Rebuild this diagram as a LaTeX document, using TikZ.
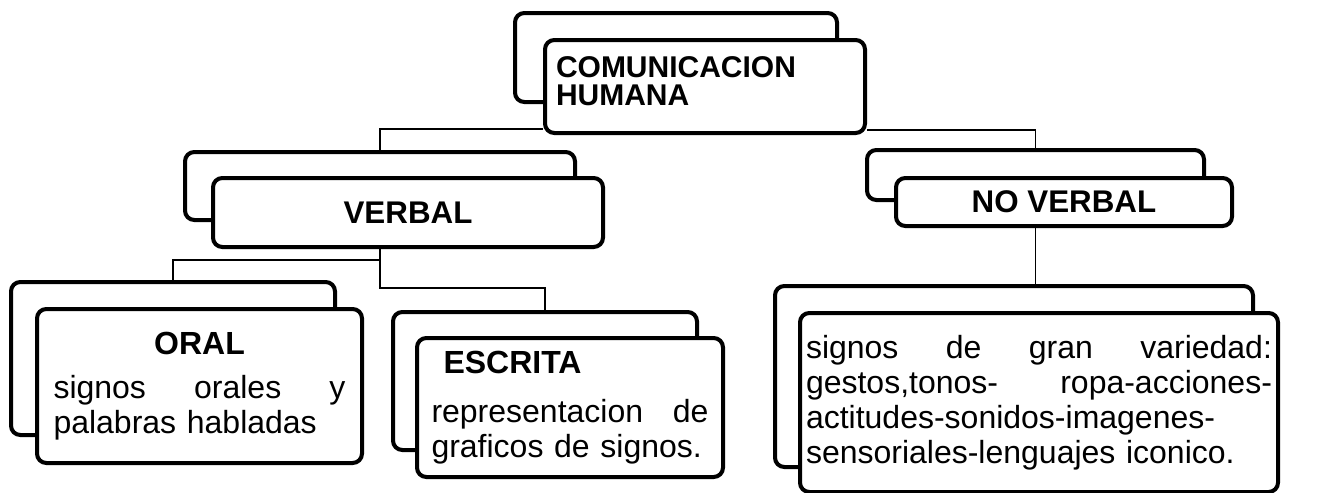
\documentclass[tikz,border=0pt]{standalone}
\usepackage{fontspec}
\setmainfont{Liberation Sans}

\begin{document}
\begin{tikzpicture}[x=0.75pt,y=-0.75pt,
    back/.style={draw=black,line width=3pt,rounded corners=7pt,fill=white,inner sep=0pt},
    front/.style={back,font=\fontsize{24}{26.25}\selectfont},
    title/.style={front,font=\fontsize{23.5}{26.25}\selectfont\bfseries},
    link/.style={draw=black,line width=1pt}]
    \useasboundingbox (0,0) rectangle (1329,493);
    \node[back,minimum width=241.5pt,minimum height=66.75pt] (topback) at (676,57.5) {};
    \node[title,minimum width=240pt,minimum height=69.75pt,text width=223.5pt,align=left,
          font=\fontsize{22.5}{21}\selectfont\bfseries] (topfront) at (705,86.5)
        {COMUNICACION\\HUMANA\par\nointerlineskip\vspace{7.5pt}\null};
    \node[back,minimum width=292.5pt,minimum height=51pt] (verbalback) at (380,186) {};
    \node[title,minimum width=292.5pt,minimum height=51.75pt] (verbalfront) at (408,212.5) {VERBAL};
    \node[back,minimum width=252.75pt,minimum height=37.5pt] (noverbalback) at (1035.5,175) {};
    \node[title,minimum width=252pt,minimum height=36pt] (noverbalfront) at (1064,202) {NO VERBAL};
    \node[back,minimum width=243pt,minimum height=114.75pt] (oralback) at (173,358.5) {};
    \node[front,minimum width=243.75pt,minimum height=115.5pt,text width=219pt,align=left] (oralfront) at (199.5,386)
        {\hfill\textbf{ORAL}\hfill\null\\[6.75pt]signos\hfill orales\hfill y\\palabras habladas};
    \node[back,minimum width=228pt,minimum height=103.5pt] (escritaback) at (545,381) {};
    \node[front,minimum width=229.5pt,minimum height=104.25pt,text width=207.75pt,align=left] (escritafront) at (570,407.5)
        {\hspace{9pt}\textbf{ESCRITA}\\[10.5pt]representacion\hfill de\\graficos de signos.};
    \node[back,minimum width=358.5pt,minimum height=135.75pt] (nvback) at (1014,376.5) {};
    \node[front,minimum width=358.5pt,minimum height=134.25pt,text width=349.5pt,align=left] (nvfront) at (1039,402.5)
        {signos\hfill de\hfill gran\hfill variedad:\\gestos,tonos-\hfill ropa-acciones-\\actitudes-sonidos-imagenes-\\sensoriales-lenguajes iconico.};
    \coordinate (vdown) at (verbalback.center |- 0,288);
    \coordinate (vleft) at (verbalback.center |- 0,260);
    \draw[link] ([yshift=4.5pt]topfront.south west) -| (verbalback.north);
    \draw[link] ([yshift=3.75pt]topfront.south east) -| (noverbalback.north);
    \draw[link] (verbalback.center |- verbalfront.south) -- (vdown) -| (escritaback.north);
    \draw[link] (vleft) -| (oralback.north);
    \draw[link] (noverbalback.center |- noverbalfront.south) -- (noverbalback.center |- nvback.north);
\end{tikzpicture}
\end{document}
